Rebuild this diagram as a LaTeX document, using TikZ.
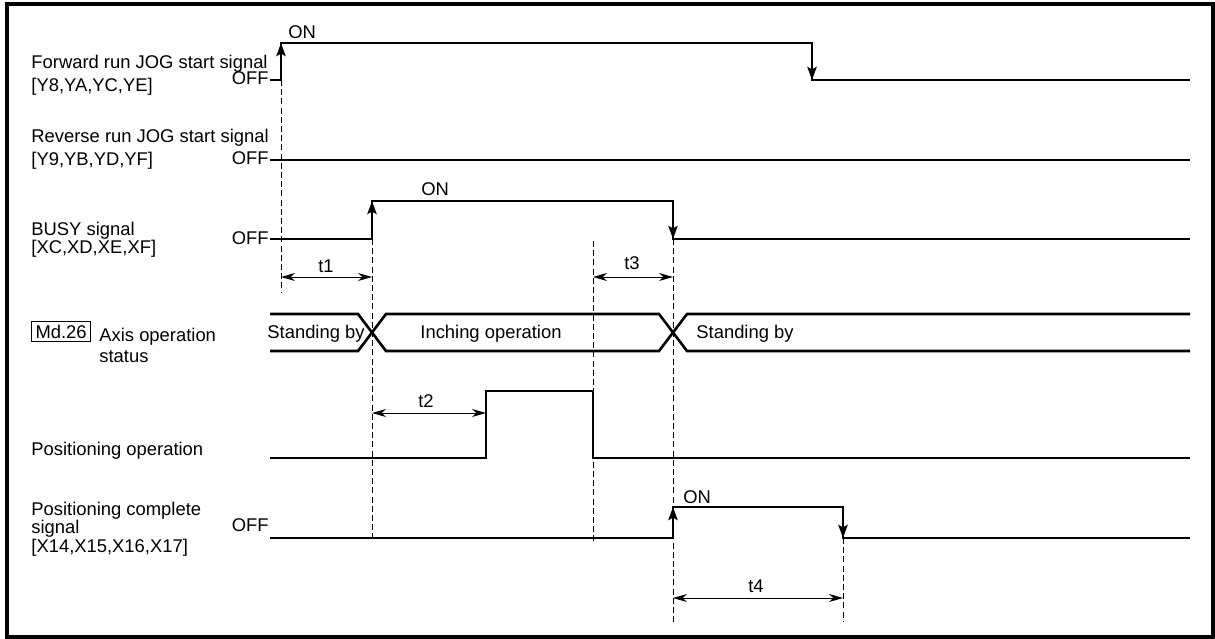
\documentclass[tikz,border=0pt]{standalone}
\usepackage{fontspec}
\setmainfont{Liberation Sans}
\usetikzlibrary{arrows.meta}
\begin{document}
\begin{tikzpicture}[x=0.5pt,y=-0.5pt,
  sig/.style={line width=1.3pt, line join=miter},
  edgearrow/.style={line width=1.3pt, -{Stealth[length=6.5pt,width=4.6pt,inset=1.2pt]}},
  guide/.style={line width=0.5pt, dash pattern=on 3pt off 1.6pt},
  dim/.style={line width=0.5pt, {Stealth[length=7pt,width=4pt,inset=2.2pt]}-{Stealth[length=7pt,width=4pt,inset=2.2pt]}},
  txt/.style={inner sep=0pt, font=\fontsize{9.2pt}{11pt}\selectfont},
  lbl/.style={txt, anchor=base west},
  offl/.style={txt, anchor=base east},
  tl/.style={txt, anchor=base}]
\useasboundingbox (0,0) rectangle (1215,638);
\draw[line width=2pt] (7,4) rectangle (1213,637);

% left labels
\node[lbl] (fw1) at (31,68) {Forward run JOG start signal};
\node[lbl] (fw2) at (31,91) {[Y8,YA,YC,YE]};
\node[lbl] (rv1) at (31,142) {Reverse run JOG start signal};
\node[lbl] (rv2) at (31,165) {[Y9,YB,YD,YF]};
\node[lbl] (bs1) at (31,235) {BUSY signal};
\node[lbl] (bs2) at (31,253) {[XC,XD,XE,XF]};
\node[lbl, draw, line width=0.5pt, inner xsep=2pt, inner ysep=1.8pt] (md) at (31,338) {Md.26};
\node[lbl] (ax1) at (99,341) {Axis operation};
\node[lbl] (ax2) at (99,362) {status};
\node[lbl] (po) at (31,455) {Positioning operation};
\node[lbl] (pc1) at (31,515) {Positioning complete};
\node[lbl] (pc2) at (31,533) {signal};
\node[lbl] (pc3) at (31,552) {[X14,X15,X16,X17]};

% OFF / ON labels
\node[offl] (off1) at (269,84) {OFF};
\node[offl] (off2) at (269,164) {OFF};
\node[offl] (off3) at (269,244) {OFF};
\node[offl] (off4) at (269,531) {OFF};
\node[lbl] (on1) at (288,38) {ON};
\node[lbl] (on2) at (421,195) {ON};
\node[lbl] (on3) at (683,503) {ON};

% guide lines
\draw[guide] (281,80) -- (281,292);
\draw[guide] (372,239) -- (372,540);
\draw[guide] (593,241) -- (593,542);
\draw[guide] (673,239) -- (673,622);
\draw[guide] (843,538) -- (843,622);

% Forward run JOG start signal
\draw[sig] (270,80) -- (281,80) -- (281,43) -- (812,43) -- (812,80) -- (1190,80);
\draw[edgearrow] (281,60) -- (281,43);
\draw[edgearrow] (812,60) -- (812,80);

% Reverse
\draw[sig] (270,160) -- (1190,160);

% BUSY
\draw[sig] (270,239) -- (372,239) -- (372,201) -- (673,201) -- (673,239) -- (1190,239);
\draw[edgearrow] (372,220) -- (372,201);
\draw[edgearrow] (673,220) -- (673,239);

% Axis operation status bus
\draw[sig] (270,314) -- (358,314) -- (386,351) -- (659,351) -- (687,314) -- (1190,314);
\draw[sig] (270,351) -- (358,351) -- (386,314) -- (659,314) -- (687,351) -- (1190,351);
\node[lbl] (sb1) at (267,338) {Standing by};
\node[lbl] (inch) at (420,338) {Inching operation};
\node[lbl] (sb2) at (696,338) {Standing by};

% Positioning operation
\draw[sig] (270,458) -- (486,458) -- (486,391) -- (593,391) -- (593,458) -- (1190,458);

% Positioning complete
\draw[sig] (270,538) -- (673,538) -- (673,507) -- (843,507) -- (843,538) -- (1190,538);
\draw[edgearrow] (673,524) -- (673,507);
\draw[edgearrow] (843,522) -- (843,538);

% timing dimensions
\draw[dim] (281,277) -- (372,277);
\node[tl] (t1) at (326,272) {t1};
\draw[dim] (593,277) -- (673,277);
\node[tl] (t3) at (632,269) {t3};
\draw[dim] (372,413) -- (486,413);
\node[tl] (t2) at (426,407) {t2};
\draw[dim] (673,598) -- (843,598);
\node[tl] (t4) at (756,592) {t4};
\end{tikzpicture}
\end{document}
